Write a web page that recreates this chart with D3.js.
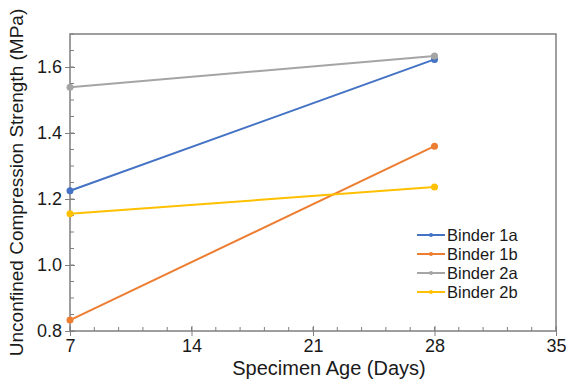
<!DOCTYPE html>
<html>
<head>
<meta charset="utf-8">
<script src="https://cdn.jsdelivr.net/npm/d3@7"></script>
<style>
  body { margin: 0; background: #fff; }
  text { font-family: "Liberation Sans", Arial, sans-serif; fill: #1a1a1a; }
</style>
</head>
<body>
<script>
// data
var days = [7, 28];
var binder1a = [1.225, 1.623];
var binder1b = [0.833, 1.36];
var binder2a = [1.539, 1.633];
var binder2b = [1.155, 1.236];
var seriesNames = ['Binder 1a', 'Binder 1b', 'Binder 2a', 'Binder 2b'];
var seriesColors = ['#4472c4', '#ed7d31', '#a5a5a5', '#ffc000'];
var xTicks = [7, 14, 21, 28, 35];
var yTicks = [0.8, 1.0, 1.2, 1.4, 1.6];

var allSeries = [binder1a, binder1b, binder2a, binder2b];

var W = 571, H = 383;
var m = {left: 70, right: 15, top: 34, bottom: 52};

var svg = d3.select('body').append('svg').attr('width', W).attr('height', H);

var x = d3.scaleLinear().domain([7, 35]).range([m.left, W - m.right]);
var y = d3.scaleLinear().domain([0.8, 1.7]).range([H - m.bottom, m.top]);

var axisCol = '#7f7f7f';

// frame
svg.append('rect')
    .attr('x', x(7)).attr('y', y(1.7))
    .attr('width', x(35) - x(7)).attr('height', y(0.8) - y(1.7))
    .attr('fill', 'none').attr('stroke', axisCol).attr('stroke-width', 1.5);

// minor ticks (inside)
var xMinor = d3.range(7, 35.001, 1.4);
svg.selectAll('.xminor').data(xMinor).enter().append('line')
    .attr('x1', function(d){ return x(d) }).attr('x2', function(d){ return x(d) })
    .attr('y1', y(0.8)).attr('y2', y(0.8) - 4)
    .attr('stroke', axisCol);
var yMinor = d3.range(0.8, 1.7001, 0.05);
svg.selectAll('.yminor').data(yMinor).enter().append('line')
    .attr('x1', x(7)).attr('x2', x(7) + 4)
    .attr('y1', function(d){ return y(d) }).attr('y2', function(d){ return y(d) })
    .attr('stroke', axisCol);

// axes with major ticks crossing
var xAxis = svg.append('g').attr('transform', 'translate(0,' + y(0.8) + ')')
    .call(d3.axisBottom(x).tickValues(xTicks).tickSizeInner(5).tickSizeOuter(0).tickPadding(3));
xAxis.select('.domain').remove();
xAxis.selectAll('line').attr('y1', -5).attr('stroke', axisCol);
xAxis.selectAll('text').style('font-size', '18px').attr('fill', '#1a1a1a');

var yAxis = svg.append('g').attr('transform', 'translate(' + x(7) + ',0)')
    .call(d3.axisLeft(y).tickValues(yTicks).tickFormat(d3.format('.1f')).tickSizeInner(5).tickSizeOuter(0).tickPadding(3));
yAxis.select('.domain').remove();
yAxis.selectAll('line').attr('x1', 5).attr('stroke', axisCol);
yAxis.selectAll('text').style('font-size', '18px').attr('fill', '#1a1a1a');

// axis titles
svg.append('text')
    .attr('x', 329).attr('y', 375)
    .attr('text-anchor', 'middle').style('font-size', '20px')
    .text('Specimen Age (Days)');
svg.append('text')
    .attr('transform', 'translate(23,' + ((y(0.8) + y(1.7)) / 2) + ') rotate(-90)')
    .attr('text-anchor', 'middle').style('font-size', '19px')
    .text('Unconfined Compression Strength (MPa)');

// lines and markers
var line = d3.line()
    .x(function(d, i){ return x(days[i]) })
    .y(function(d){ return y(d) });

allSeries.forEach(function(s, k){
    svg.append('path').datum(s)
        .attr('d', line)
        .attr('fill', 'none')
        .attr('stroke', seriesColors[k])
        .attr('stroke-width', 2);
    svg.selectAll('.pt' + k).data(s).enter().append('circle')
        .attr('cx', function(d, i){ return x(days[i]) })
        .attr('cy', function(d){ return y(d) })
        .attr('r', 3.5)
        .attr('fill', seriesColors[k]);
});

// legend
var lg = svg.append('g').attr('transform', 'translate(417,235)');
seriesNames.forEach(function(n, k){
    var row = lg.append('g').attr('transform', 'translate(0,' + (k * 19) + ')');
    row.append('line').attr('x1', 0).attr('x2', 28).attr('y1', 0).attr('y2', 0)
        .attr('stroke', seriesColors[k]).attr('stroke-width', 2);
    row.append('circle').attr('cx', 14).attr('cy', 0).attr('r', 2).attr('fill', seriesColors[k]);
    row.append('text').attr('x', 30).attr('y', 6).style('font-size', '16.5px').text(n);
});
</script>
</body>
</html>
